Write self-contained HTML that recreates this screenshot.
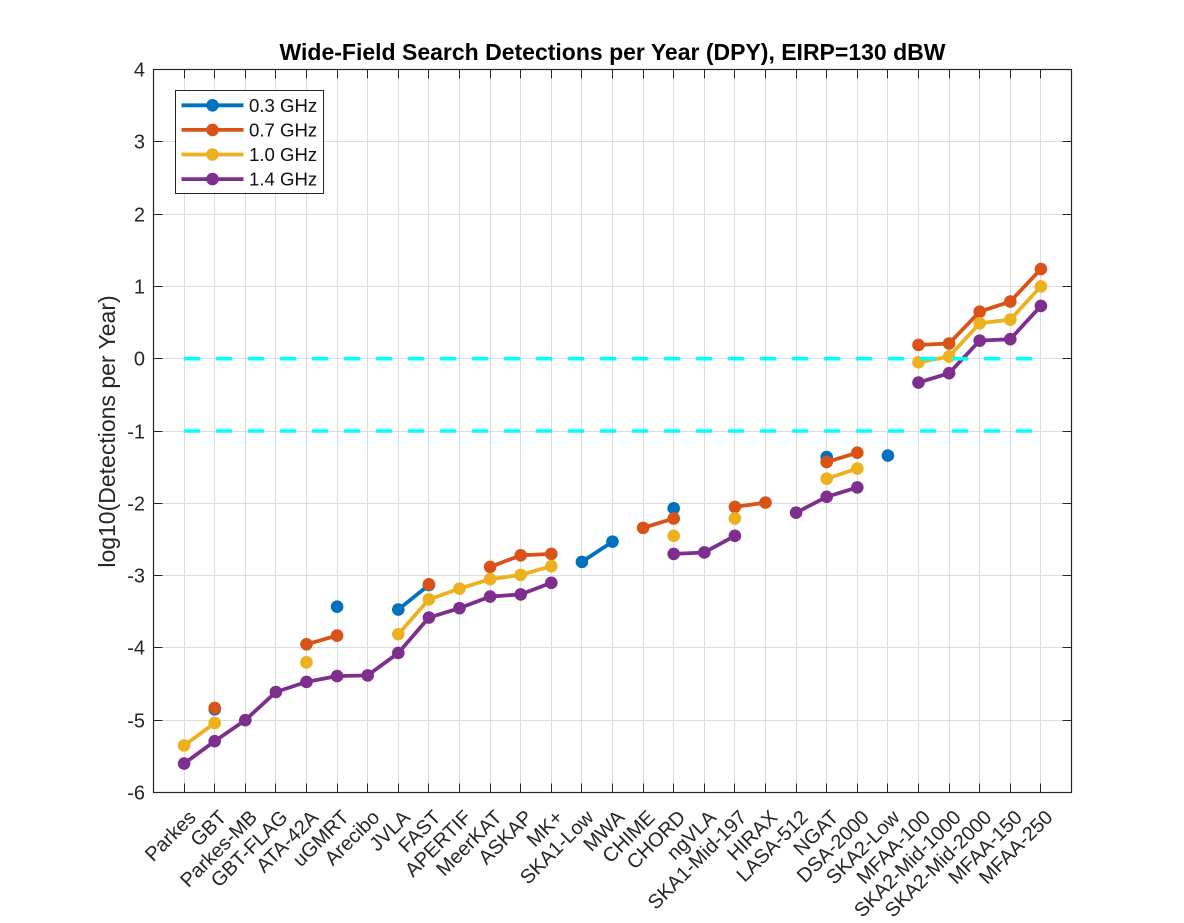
<!DOCTYPE html>
<html lang="en">
<head>
<meta charset="utf-8">
<title>Wide-Field Search Detections per Year</title>
<style>
html,body{margin:0;padding:0;background:#fff;width:1184px;height:923px;overflow:hidden}
svg{display:block;font-family:"Liberation Sans",Arial,sans-serif}
</style>
</head>
<body>
<svg id="chart" xmlns="http://www.w3.org/2000/svg" width="1184" height="923" viewBox="0 0 1184 923">
  <rect x="0" y="0" width="1184" height="923" fill="#ffffff"/>
  <g id="grid"></g>
  <g id="series"></g>
  <g id="refs"></g>
  <rect x="153.5" y="69.5" width="918" height="723" fill="none" stroke="#262626" stroke-width="1.2"/>
  <g id="ticks"></g>
  <g id="ylabels"></g>
  <g id="xlabels"></g>
  <text x="612.5" y="60" text-anchor="middle" font-size="23" font-weight="bold" fill="#000" stroke="none">Wide-Field Search Detections per Year (DPY), EIRP=130 dBW</text>
  <text transform="translate(115,431.5) rotate(-90)" text-anchor="middle" font-size="23" fill="#262626">log10(Detections per Year)</text>
  <g id="legend"></g>
</svg>
<script>
const categories = ["Parkes","GBT","Parkes-MB","GBT-FLAG","ATA-42A","uGMRT","Arecibo","JVLA","FAST","APERTIF","MeerKAT","ASKAP","MK+","SKA1-Low","MWA","CHIME","CHORD","ngVLA","SKA1-Mid-197","HIRAX","LASA-512","NGAT","DSA-2000","SKA2-Low","MFAA-100","SKA2-Mid-1000","SKA2-Mid-2000","MFAA-150","MFAA-250"];
const yTickValues = [4,3,2,1,0,-1,-2,-3,-4,-5,-6];
const referenceLevels = [0,-1];
const seriesNames = ["0.3 GHz","0.7 GHz","1.0 GHz","1.4 GHz"];
const seriesColors = ["#0072BD","#D95319","#EDB120","#7E2F8E"];
const values03 = [null,-4.85,null,null,null,-3.43,null,-3.47,-3.13,null,null,null,null,-2.81,-2.53,null,-2.07,null,null,null,null,-1.36,null,-1.34,null,null,null,null,null];
const values07 = [null,-4.83,null,null,-3.95,-3.83,null,null,-3.12,null,-2.88,-2.72,-2.70,null,null,-2.34,-2.21,null,-2.05,-1.99,null,-1.43,-1.30,null,0.19,0.21,0.65,0.79,1.24];
const values10 = [-5.35,-5.04,null,null,-4.20,null,null,-3.81,-3.33,-3.18,-3.05,-2.99,-2.87,null,null,null,-2.45,null,-2.21,null,null,-1.66,-1.52,null,-0.05,0.03,0.49,0.54,1.00];
const values14 = [-5.60,-5.29,-5.00,-4.61,-4.47,-4.39,-4.38,-4.07,-3.58,-3.45,-3.29,-3.26,-3.10,null,null,null,-2.70,-2.68,-2.45,null,-2.13,-1.91,-1.78,null,-0.33,-0.20,0.25,0.27,0.73];
const seriesValues = [values03, values07, values10, values14];

const NS = "http://www.w3.org/2000/svg";
const plotLeft = 153.5, plotRight = 1071.5, plotTop = 69.5, plotBottom = 792.5;
const xMin = 0, xMax = 30, yMin = -6, yMax = 4;
function xScale(i){ return plotLeft + (i + 1 - xMin) / (xMax - xMin) * (plotRight - plotLeft); }
function yScale(v){ return plotBottom - (v - yMin) / (yMax - yMin) * (plotBottom - plotTop); }
function make(tag, attrs, parent){
  const el = document.createElementNS(NS, tag);
  for (const k in attrs) el.setAttribute(k, attrs[k]);
  parent.appendChild(el);
  return el;
}
const gridG = document.getElementById("grid");
const ticksG = document.getElementById("ticks");
const ylabelsG = document.getElementById("ylabels");
const xlabelsG = document.getElementById("xlabels");
const seriesG = document.getElementById("series");
const refsG = document.getElementById("refs");
const legendG = document.getElementById("legend");
const gridColor = "#dcdcdc", axisColor = "#262626";

categories.forEach(function(name, i){
  const x = Math.round(xScale(i) - 0.5) + 0.5;
  const g1 = make("line", {x1:x, x2:x, y1:plotTop, y2:plotBottom, stroke:gridColor, "stroke-width":1}, gridG);
  
  
  const t1 = make("line", {x1:x, x2:x, y1:plotBottom, y2:plotBottom - 9, stroke:axisColor, "stroke-width":1}, ticksG);
  
  
  const t2 = make("line", {x1:x, x2:x, y1:plotTop, y2:plotTop + 9, stroke:axisColor, "stroke-width":1}, ticksG);
  
  
  const lx = xScale(i) + 13, ly = plotBottom + 26;
  const label = make("text", {transform:"translate(" + lx + "," + ly + ") rotate(-45)", "text-anchor":"end", "font-size":20, fill:axisColor}, xlabelsG);
  
  
  label.textContent = name;
});

yTickValues.forEach(function(v){
  const y = Math.round(yScale(v) - 0.5) + 0.5;
  const g2 = make("line", {x1:plotLeft, x2:plotRight, y1:y, y2:y, stroke:gridColor, "stroke-width":1}, gridG);
  
  
  const t3 = make("line", {x1:plotLeft, x2:plotLeft + 9, y1:y, y2:y, stroke:axisColor, "stroke-width":1}, ticksG);
  
  
  const t4 = make("line", {x1:plotRight, x2:plotRight - 9, y1:y, y2:y, stroke:axisColor, "stroke-width":1}, ticksG);
  
  
  const label = make("text", {x:145, y:y + 7, "text-anchor":"end", "font-size":20, fill:axisColor}, ylabelsG);
  
  
  label.textContent = String(v);
});

seriesValues.forEach(function(vals, s){
  const color = seriesColors[s];
  const group = make("g", {}, seriesG);
  
  
  let run = [];
  function flush(){
    if (run.length > 1){
      const seg = make("polyline", {points:run.join(" "), fill:"none", stroke:color, "stroke-width":3.8, "stroke-linejoin":"round"}, group);
      
      
    }
    run = [];
  }
  vals.forEach(function(v, i){
    if (v === null){ flush(); return; }
    run.push(xScale(i) + "," + yScale(v));
  });
  flush();
  vals.forEach(function(v, i){
    if (v === null) return;
    const dot = make("circle", {cx:xScale(i), cy:yScale(v), r:6.3, fill:color}, group);
    
    
  });
});

referenceLevels.forEach(function(v){
  const ref = make("line", {x1:xScale(0), x2:xScale(categories.length - 1), y1:yScale(v), y2:yScale(v), stroke:"#00FFFF", "stroke-width":3.6, "stroke-dasharray":"16 16"}, refsG);
  
  
});

const legendBox = make("rect", {x:175.5, y:90.5, width:148, height:103, fill:"#fff", stroke:axisColor, "stroke-width":1}, legendG);


seriesNames.forEach(function(name, s){
  const y = 105.3 + s * 24.6;
  const row = make("g", {}, legendG);
  
  
  make("line", {x1:181.5, x2:243.5, y1:y, y2:y, stroke:seriesColors[s], "stroke-width":3.8}, row);
  make("circle", {cx:212.5, cy:y, r:6.3, fill:seriesColors[s]}, row);
  const t = make("text", {x:249, y:y + 6.5, "font-size":18.6, fill:"#111"}, row);
  t.textContent = name;
});
</script>
</body>
</html>
